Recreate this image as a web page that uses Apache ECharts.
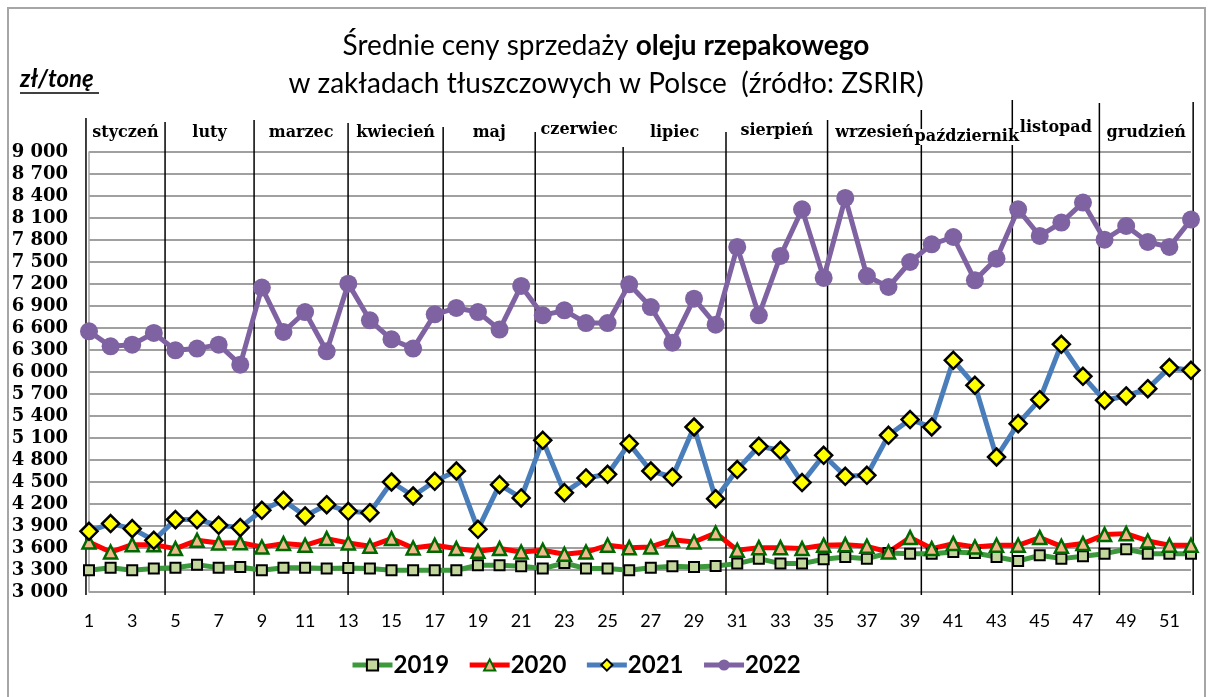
<!DOCTYPE html>
<html><head><meta charset="utf-8">
<script src="https://cdn.jsdelivr.net/npm/echarts@6/dist/echarts.min.js"></script>
<style>html,body{margin:0;padding:0;background:#fff}#c{width:1212px;height:697px}</style>
</head><body><div id="c"></div>
<script>
const weeks = ['1','2','3','4','5','6','7','8','9','10','11','12','13','14','15','16','17','18','19','20','21','22','23','24','25','26','27','28','29','30','31','32','33','34','35','36','37','38','39','40','41','42','43','44','45','46','47','48','49','50','51','52'];

const y2019 = [3296,3332,3296,3319,3332,3373,3332,3341,3296,3332,3332,3319,3328,3319,3296,3296,3296,3296,3364,3364,3350,3319,3396,3319,3319,3296,3332,3350,3341,3355,3387,3455,3387,3387,3446,3478,3455,3532,3523,3523,3545,3532,3478,3423,3500,3455,3487,3523,3582,3523,3523,3523];
const y2020 = [3682,3545,3646,3646,3592,3705,3669,3673,3614,3660,3637,3728,3669,3623,3728,3600,3637,3592,3555,3592,3545,3569,3514,3545,3637,3605,3614,3714,3682,3805,3569,3605,3605,3592,3637,3646,3623,3545,3742,3592,3660,3614,3637,3637,3742,3623,3660,3783,3796,3696,3637,3637];
const y2021 = [3828,3933,3864,3705,3987,3987,3910,3878,4114,4250,4037,4191,4100,4082,4500,4309,4510,4650,3855,4464,4282,5069,4355,4555,4605,5023,4650,4568,5250,4273,4669,4987,4932,4492,4864,4578,4591,5137,5351,5250,6159,5819,4841,5296,5623,6378,5941,5614,5673,5773,6060,6023];
const y2022 = [6555,6350,6373,6532,6296,6319,6373,6100,7151,6546,6818,6282,7205,6705,6446,6319,6787,6873,6818,6578,7173,6773,6841,6668,6668,7196,6886,6400,7000,6646,7705,6773,7582,8218,7282,8373,7309,7159,7500,7741,7841,7250,7546,8218,7855,8037,8310,7805,7991,7773,7705,8078];

const months = ['styczeń','luty','marzec','kwiecień','maj','czerwiec','lipiec','sierpień','wrzesień','październik','listopad','grudzień'];
// month separators, in week units (1 = first week)
const monthBounds = [0.86,4.52,8.64,12.99,17.39,21.65,25.72,30.48,35.18,39.52,43.73,47.76,52.1];

const yMin = 3000, yMax = 9000, yStep = 300;

const chart = echarts.init(document.getElementById('c'), null, {renderer:'canvas'});

const serif = 'DejaVu Serif';
const sans = 'Lato';

chart.setOption({
  animation:false,
  backgroundColor:'#fff',
  title:{
    left:'center', top:22,
    text:'{n|Średnie ceny sprzedaży }{b|oleju rzepakowego}\n{n|w zakładach tłuszczowych w Polsce  (źródło: ZSRIR)}',
    textStyle:{
      fontWeight:'normal',
      rich:{
        n:{fontFamily:sans,fontSize:28,fontWeight:'normal',color:'#000',lineHeight:38},
        b:{fontFamily:sans,fontSize:28,fontWeight:'bold',color:'#000',lineHeight:38}
      }
    }
  },
  legend:{
    top:648, left:345,
    itemWidth:40, itemHeight:14, itemGap:18,
    lineStyle:{width:5},
    textStyle:{fontFamily:sans,fontSize:24,fontWeight:'bold',color:'#000',padding:[0,0,0,-4]},
    data:['2019','2020','2021','2022']
  },
  grid:{left:89,right:21,top:152,bottom:105,containLabel:false},
  xAxis:{
    type:'category', data:weeks, boundaryGap:false,
    axisLine:{show:false}, axisTick:{show:false},
    axisLabel:{interval:1,fontFamily:sans,fontSize:18,color:'#000',margin:20},
    splitLine:{show:false}
  },
  yAxis:{
    type:'value', min:yMin, max:yMax, interval:yStep,
    axisLine:{show:true,lineStyle:{color:'#a6a6a6',width:1.5}},
    axisTick:{show:false},
    axisLabel:{fontFamily:serif,fontSize:18,fontWeight:'bold',color:'#000',margin:21,
      formatter:v=>String(v).replace(/\B(?=(\d{3})+(?!\d))/g,' ')},
    splitLine:{show:true,lineStyle:{color:'#a0a0a0',width:2}}
  },
  series:[
    {name:'2019',type:'line',data:y2019,symbol:'rect',symbolSize:10,showAllSymbol:true,
      lineStyle:{color:'#3c9a3c',width:5},
      itemStyle:{color:'#c3d69b',borderColor:'#000',borderWidth:2}},
    {name:'2020',type:'line',data:y2020,symbol:'triangle',symbolSize:[13,13],showAllSymbol:true,
      lineStyle:{color:'#ff0000',width:5},
      itemStyle:{color:'#f2b98a',borderColor:'#006a00',borderWidth:2.5}},
    {name:'2021',type:'line',data:y2021,symbol:'diamond',symbolSize:17,showAllSymbol:true,
      lineStyle:{color:'#4a7ebb',width:5},
      itemStyle:{color:'#ffff00',borderColor:'#000',borderWidth:2.5}},
    {name:'2022',type:'line',data:y2022,symbol:'circle',symbolSize:18,showAllSymbol:true,
      lineStyle:{color:'#7f62a1',width:5},
      itemStyle:{color:'#7f62a1',borderWidth:0}}
  ]
});

// decorations derived from the library's scales
const monthLineTops = [118,122,120,123,127,132,147,132,120,110,100,103,102];
const monthLabelDy = [0,0,0,0,0,-3,0,-2,0,4,-5,0];
function xAt(week){
  const a = chart.convertToPixel({gridIndex:0},[0,yMin])[0];
  const b = chart.convertToPixel({gridIndex:0},[51,yMin])[0];
  return a + (week-1)*(b-a)/51;
}
const yBottom = chart.convertToPixel({gridIndex:0},[0,yMin])[1];
const g = [];
g.push({type:'rect',shape:{x:8,y:8,width:1197,height:700},style:{fill:null,stroke:'#a6a6a6',lineWidth:2},silent:true,z:0});
monthBounds.forEach((w,i)=>{
  const x = xAt(w);
  g.push({type:'line',shape:{x1:x,y1:monthLineTops[i],x2:x,y2:yBottom+3},style:{stroke:'#000',lineWidth:1.5},silent:true,z:1});
});
months.forEach((m,i)=>{
  const x = (xAt(monthBounds[i])+xAt(monthBounds[i+1]))/2;
  g.push({type:'text',x:x,y:133+monthLabelDy[i],style:{text:m,fontFamily:serif,fontSize:16,fontWeight:'bold',fill:'#000',align:'center',verticalAlign:'middle',backgroundColor:'#fff'},silent:true,z:2});
});
g.push({type:'text',x:20,y:79,style:{text:'zł/tonę',fontFamily:sans,fontSize:24,fontWeight:'bold',fontStyle:'italic',fill:'#000',align:'left',verticalAlign:'middle'},silent:true,z:2});
g.push({type:'line',shape:{x1:20,y1:93,x2:99,y2:93},style:{stroke:'#000',lineWidth:1.5},silent:true,z:2});
chart.setOption({graphic:g});
</script>
</body></html>
